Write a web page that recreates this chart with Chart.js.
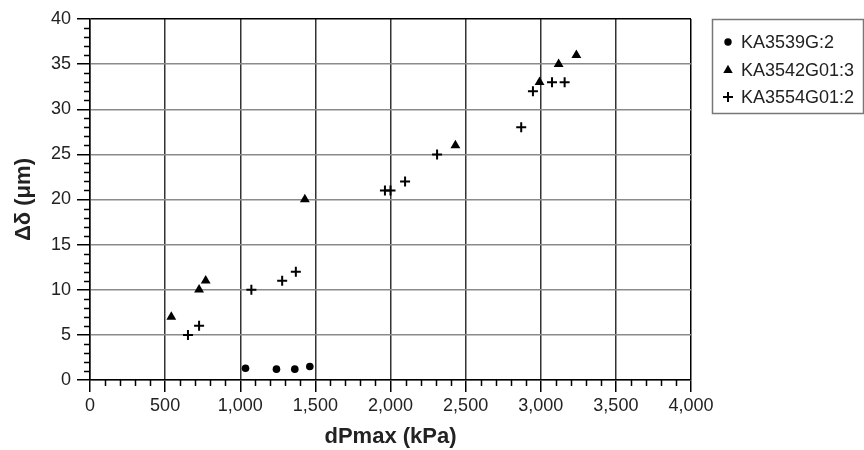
<!DOCTYPE html>
<html>
<head>
<meta charset="utf-8">
<style>
  html, body { margin: 0; padding: 0; background: #fff; }
  #wrap { width: 864px; height: 450px; position: relative; }
</style>
<script src="https://cdn.jsdelivr.net/npm/chart.js@4/dist/chart.umd.min.js"></script>
</head>
<body>
<div id="wrap"><canvas id="chart" width="864" height="450"></canvas></div>
<script>
// Series (x = dPmax in kPa, y = delta in µm)
const seriesNames = ['KA3539G:2', 'KA3542G01:3', 'KA3554G01:2'];

const ka3539X = [1035, 1241, 1363, 1463];
const ka3539Y = [1.3, 1.2, 1.2, 1.5];

const ka3542X = [541, 726, 770, 1430, 2432, 2992, 3119, 3237];
const ka3542Y = [7, 10, 11, 20, 26, 33, 35, 36];

const ka3554X = [652, 726, 1074, 1279, 1370, 1963, 2000, 2097, 2310, 2870, 2948, 3075, 3159];
const ka3554Y = [5, 6, 10, 11, 12, 21, 21, 22, 25, 28, 32, 33, 33];

const xMin = 0, xMax = 4000, xStep = 500, xMinorStep = 100;
const yMin = 0, yMax = 40, yStep = 5, yMinorStep = 1;

const FONT = "'Liberation Sans', Arial, sans-serif";

function toPoints(xs, ys) {
  return xs.map((x, i) => ({ x: x, y: ys[i] }));
}

// Minor ticks, custom legend box
const extrasPlugin = {
  id: 'extras',
  afterDraw(chart) {
    const ctx = chart.ctx;
    const xs = chart.scales.x;
    const ys = chart.scales.y;
    const area = chart.chartArea;

    ctx.save();
    ctx.strokeStyle = '#000';
    ctx.lineWidth = 1.5;
    ctx.beginPath();
    for (let v = xMin + xMinorStep; v < xMax; v += xMinorStep) {
      if (v % xStep === 0) continue;
      const px = Math.round(xs.getPixelForValue(v)) + 0.5;
      ctx.moveTo(px, area.bottom);
      ctx.lineTo(px, area.bottom + 6);
    }
    for (let v = yMin + yMinorStep; v < yMax; v += yMinorStep) {
      if (v % yStep === 0) continue;
      const py = Math.round(ys.getPixelForValue(v)) + 0.5;
      ctx.moveTo(area.left - 6, py);
      ctx.lineTo(area.left, py);
    }
    ctx.stroke();

    // legend
    const boxL = 712.5, boxT = 19.5, boxB = 113.5, boxR = 863.5;
    ctx.strokeStyle = '#777';
    ctx.lineWidth = 1.5;
    ctx.strokeRect(boxL, boxT, boxR - boxL, boxB - boxT);

    const rowY = [42, 70, 97];
    const mx = 728;
    ctx.fillStyle = '#000';
    ctx.strokeStyle = '#000';
    // circle
    ctx.beginPath();
    ctx.arc(mx, rowY[0], 3.7, 0, Math.PI * 2);
    ctx.fill();
    // triangle
    ctx.beginPath();
    ctx.moveTo(mx, rowY[1] - 5.2);
    ctx.lineTo(mx + 4.7, rowY[1] + 3);
    ctx.lineTo(mx - 4.7, rowY[1] + 3);
    ctx.closePath();
    ctx.fill();
    // cross
    ctx.lineWidth = 2;
    ctx.beginPath();
    ctx.moveTo(mx - 5, rowY[2]);
    ctx.lineTo(mx + 5, rowY[2]);
    ctx.moveTo(mx, rowY[2] - 5);
    ctx.lineTo(mx, rowY[2] + 5);
    ctx.stroke();

    ctx.font = '18px ' + FONT;
    ctx.fillStyle = '#222';
    ctx.textAlign = 'left';
    ctx.textBaseline = 'middle';
    seriesNames.forEach((name, i) => ctx.fillText(name, 741, rowY[i] + 1));
    ctx.restore();
  },
};

new Chart(document.getElementById('chart'), {
  type: 'scatter',
  data: {
    datasets: [
      {
        label: seriesNames[0],
        data: toPoints(ka3539X, ka3539Y),
        pointStyle: 'circle',
        pointRadius: 3.8,
        backgroundColor: '#000',
        borderColor: '#000',
        borderWidth: 0,
      },
      {
        label: seriesNames[1],
        data: toPoints(ka3542X, ka3542Y),
        pointStyle: 'triangle',
        pointRadius: 5.7,
        backgroundColor: '#000',
        borderColor: '#000',
        borderWidth: 0,
      },
      {
        label: seriesNames[2],
        data: toPoints(ka3554X, ka3554Y),
        pointStyle: 'cross',
        pointRadius: 5,
        backgroundColor: '#000',
        borderColor: '#000',
        borderWidth: 2,
      },
    ],
  },
  options: {
    responsive: false,
    animation: false,
    layout: { padding: { top: 19, right: 173, bottom: 0, left: 0 } },
    plugins: {
      legend: { display: false },
      tooltip: { enabled: false },
    },
    scales: {
      x: {
        type: 'linear',
        min: xMin,
        max: xMax,
        afterFit: (scale) => { scale.height = 70; },
        ticks: {
          stepSize: xStep,
          padding: 3,
          color: '#222',
          font: { family: FONT, size: 18 },
          maxRotation: 0,
          callback: (v) => v.toLocaleString('en-US'),
        },
        grid: {
          color: (c) => (c.tick && c.tick.value === xMax ? '#000' : '#333'),
          lineWidth: 1.5,
          tickLength: 12,
          tickColor: '#000',
        },
        border: { color: '#000', width: 1.5 },
        title: {
          display: true,
          text: 'dPmax (kPa)',
          color: '#222',
          font: { family: FONT, size: 22, weight: 'bold' },
          padding: { top: 0, bottom: 0 },
        },
      },
      y: {
        type: 'linear',
        min: yMin,
        max: yMax,
        afterFit: (scale) => { scale.width = 90; },
        ticks: {
          stepSize: yStep,
          padding: 6,
          color: '#222',
          font: { family: FONT, size: 18 },
        },
        grid: {
          color: (c) => (c.tick && c.tick.value === yMax ? '#000' : '#8a8a8a'),
          lineWidth: 1.5,
          tickLength: 13,
          tickColor: '#000',
        },
        border: { color: '#000', width: 1.5 },
        title: {
          display: true,
          text: 'Δδ (μm)',
          color: '#222',
          font: { family: FONT, size: 22, weight: 'bold' },
          padding: { top: 11, bottom: 0 },
        },
      },
    },
  },
  plugins: [extrasPlugin],
});
</script>
</body>
</html>
